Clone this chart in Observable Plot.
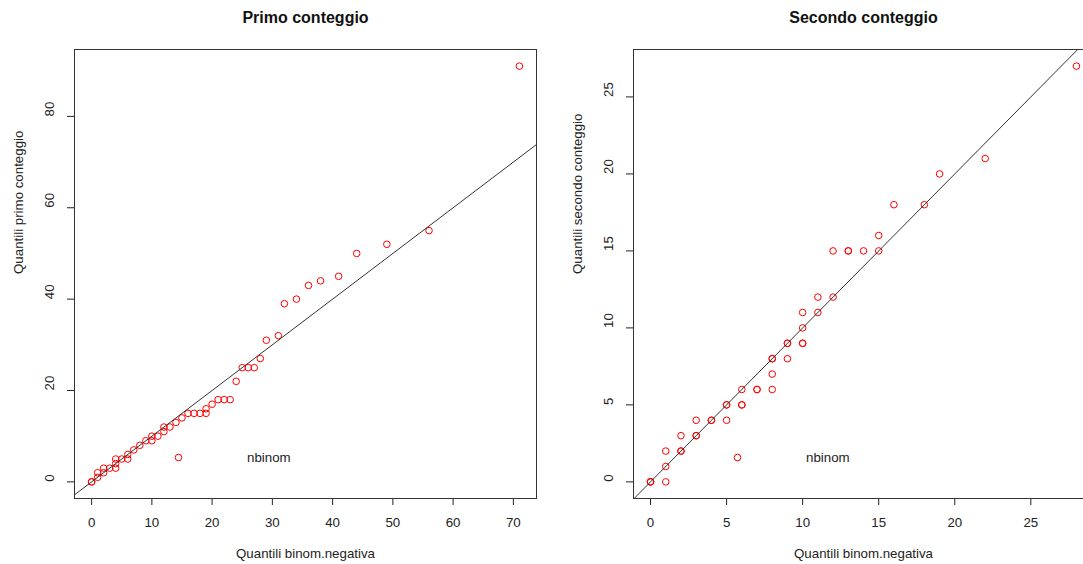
<!DOCTYPE html>
<html>
<head>
<meta charset="utf-8">
<script src="https://cdn.jsdelivr.net/npm/d3@7"></script>
<script src="https://cdn.jsdelivr.net/npm/@observablehq/plot@0.6"></script>
<style>
  html, body { margin: 0; padding: 0; background: #fff; }
  #wrap { position: relative; width: 1083px; height: 564px; overflow: hidden; background: #fff; }
  #wrap svg { position: absolute; top: 0; }
</style>
</head>
<body>
<div id="wrap"></div>
<script>
// Q-Q plot: quantili osservati vs quantili della binomiale negativa

// Primo conteggio (coppie ordinate)
const primoTeorici   = [0,0,1,1,2,2,3,4,4,4,5,6,6,7,8,9,10,10,11,12,12,13,14,15,16,17,18,19,19,20,21,22,23,24,25,26,27,28,29,31,32,34,36,38,41,44,49,56,71];
const primoOsservati = [0,0,1,2,2,3,3,3,4,5,5,5,6,7,8,9,9,10,10,11,12,12,13,14,15,15,15,15,16,17,18,18,18,22,25,25,25,27,31,32,39,40,43,44,45,50,52,55,91];

// Secondo conteggio (coppie ordinate)
const secondoTeorici   = [0,0,0,1,1,1,2,2,2,3,3,3,4,4,5,5,5,6,6,6,7,7,8,8,8,8,9,9,9,10,10,10,10,11,11,12,12,13,13,14,15,15,16,18,19,22,28];
const secondoOsservati = [0,0,0,0,1,2,2,2,3,3,3,4,4,4,4,5,5,5,5,6,6,6,6,7,8,8,8,9,9,9,9,10,11,11,12,12,15,15,15,15,15,16,18,18,20,21,27];

// Tick labels
const primoTickX = [0,10,20,30,40,50,60,70];
const primoTickY = [0,20,40,60,80];
const secondoTickX = [0,5,10,15,20,25];
const secondoTickY = [0,5,10,15,20,25];

// Reference lines (intercept, slope)
const primoRetta = [0, 1];
const secondoRetta = [0, 1];

const xLabel = "Quantili binom.negativa";
const legendText = "nbinom";

const FONT = "'Liberation Sans', Arial, Helvetica, sans-serif";
const INK = "#222";
const RED = "#ff0000";

// padded range like the usual 4% extension
function padded(vals) {
  const [lo, hi] = d3.extent(vals);
  const p = (hi - lo) * 0.04;
  return [lo - p, hi + p];
}

function panel({xs, ys, tickX, tickY, retta, title, yLabel, marginLeft, marginRight}) {
  const pts = xs.map((x, i) => ({x, y: ys[i]}));
  const xd = padded(xs);
  const yd = padded(ys);
  const [a, b] = retta;
  const lineData = xd.map(x => ({x, y: a + b * x}));
  const txt = {fontSize: 13.3, fill: INK, lineAnchor: "middle"};
  return Plot.plot({
    width: 560,
    height: 564,
    marginLeft,
    marginRight,
    marginTop: 49,
    marginBottom: 66,
    style: {fontFamily: FONT, fontSize: "13.3px", color: INK, background: "white", overflow: "visible"},
    x: {domain: xd, ticks: tickX, tickSize: 7, tickFormat: () => "", label: null},
    y: {domain: yd, ticks: tickY, tickSize: 7, tickFormat: () => "", label: null},
    marks: [
      Plot.frame({stroke: "#333", strokeWidth: 1}),
      Plot.dot(pts, {x: "x", y: "y", r: 3.3, stroke: RED, strokeWidth: 1, fill: "none"}),
      Plot.line(lineData, {x: "x", y: "y", stroke: "#333", strokeWidth: 1, clip: true}),
      // tick labels
      Plot.text(tickX, {...txt, x: d => d, text: d => String(d), frameAnchor: "bottom", dy: 24}),
      Plot.text(tickY, {...txt, y: d => d, text: d => String(d), frameAnchor: "left", dx: -25, rotate: -90}),
      // axis titles
      Plot.text([xLabel], {...txt, text: d => d, frameAnchor: "bottom", dy: 55}),
      Plot.text([yLabel], {...txt, text: d => d, frameAnchor: "left", dx: -55.5, rotate: -90}),
      // title
      Plot.text([title], {text: d => d, frameAnchor: "top", dy: -32, lineAnchor: "middle", fontSize: 16, fontWeight: "bold", fill: "#111"}),
      // legend
      Plot.dot([legendText], {frameAnchor: "bottom-left", dx: 104, dy: -41, r: 3.3, stroke: RED, strokeWidth: 1, fill: "none"}),
      Plot.text([legendText], {...txt, text: d => d, frameAnchor: "bottom-left", dx: 172.5, dy: -41, textAnchor: "start"})
    ]
  });
}

const wrap = document.getElementById("wrap");

const left = panel({
  xs: primoTeorici, ys: primoOsservati,
  tickX: primoTickX, tickY: primoTickY, retta: primoRetta,
  title: "Primo conteggio", yLabel: "Quantili primo conteggio",
  marginLeft: 74, marginRight: 24
});
left.style.left = "0px";
wrap.appendChild(left);

const right = panel({
  xs: secondoTeorici, ys: secondoOsservati,
  tickX: secondoTickX, tickY: secondoTickY, retta: secondoRetta,
  title: "Secondo conteggio", yLabel: "Quantili secondo conteggio",
  marginLeft: 73, marginRight: 27
});
right.style.left = "560px";
wrap.appendChild(right);
</script>
</body>
</html>
